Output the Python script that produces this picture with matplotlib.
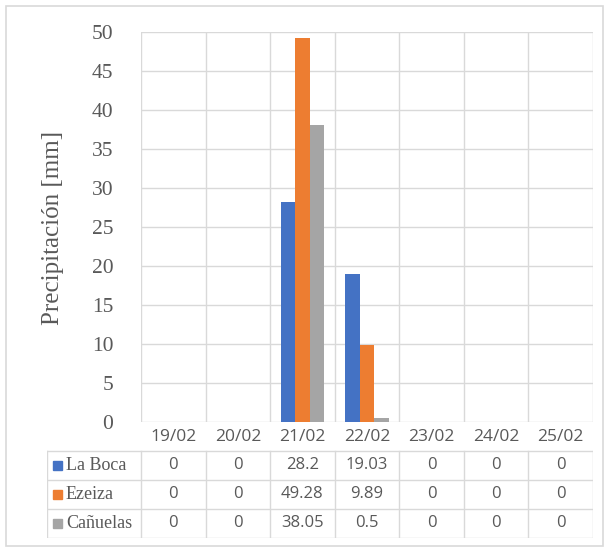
import matplotlib
matplotlib.use("Agg")
import matplotlib.pyplot as plt
from matplotlib.patches import Rectangle
import numpy as np

# data
dates = ["19/02", "20/02", "21/02", "22/02", "23/02", "24/02", "25/02"]
stations = ["La Boca", "Ezeiza", "Cañuelas"]
la_boca = [0, 0, 28.2, 19.03, 0, 0, 0]
ezeiza = [0, 0, 49.28, 9.89, 0, 0, 0]
canuelas = [0, 0, 38.05, 0.5, 0, 0, 0]
colors = ["#4472C4", "#ED7D31", "#A5A5A5"]
series = [la_boca, ezeiza, canuelas]

W, H = 608, 550
GRID = "#D9D9D9"
TXT = "#595959"
SERIF = "Liberation Serif"
SANS = "Open Sans"

fig = plt.figure(figsize=(W / 100, H / 100), dpi=100)
fig.patch.set_facecolor("white")

# outer border of the chart
fig.patches.append(Rectangle((6 / W, 1 - 546 / H), 597 / W, 540 / H,
                             transform=fig.transFigure, fill=False,
                             edgecolor=GRID, linewidth=1.2))

# plot area (pixel layout)
left, right, top, bottom = 141, 593, 32, 422
ax = fig.add_axes([left / W, 1 - bottom / H, (right - left) / W, (bottom - top) / H])
n = len(dates)
x = np.arange(n)
bw = 0.222
for k, (vals, c) in enumerate(zip(series, colors)):
    ax.bar(x + (k - 1) * bw, vals, width=bw, color=c, zorder=3)

ax.set_xlim(-0.5, n - 0.5)
ax.set_ylim(0, 50)
ax.set_yticks(np.arange(0, 51, 5))
ax.set_xticks([])
for s in ax.spines.values():
    s.set_visible(False)
ax.tick_params(axis="y", length=0, pad=20, labelsize=15.5, labelcolor=TXT)
for lab in ax.get_yticklabels():
    lab.set_fontfamily(SERIF)
for yv in np.arange(0, 51, 5):
    ax.axhline(yv, color=GRID, linewidth=1, zorder=1)
for xv in np.arange(-0.5, n, 1):
    ax.axvline(xv, color=GRID, linewidth=1, zorder=1)

# y axis title
fig.text(53 / W, 1 - 228 / H, "Precipitación [mm]", rotation=90, ha="center",
         va="center", fontsize=18, color=TXT, family=SERIF)

# data table below the plot
tl, tb = 47, 538
cw = (right - left) / n
tab = fig.add_axes([tl / W, 1 - tb / H, (right - tl) / W, (tb - bottom) / H])
tab.set_xlim(-0.5 - (left - tl) / cw, n - 0.5)
tab.set_ylim(tb, bottom)
tab.axis("off")
x0 = -0.5 - (left - tl) / cw

row_lines = [451, 480, 509, 538]
for yv in row_lines:
    tab.plot([x0, n - 0.5], [yv, yv], color=GRID, linewidth=1)
for xv in [x0] + list(np.arange(-0.5, n, 1)):
    tab.plot([xv, xv], [row_lines[0], row_lines[-1]], color=GRID, linewidth=1)

for i, d in enumerate(dates):
    tab.text(i, 437, d, ha="center", va="center", fontsize=12.5, color=TXT, family=SANS)

for r, (name, vals, c) in enumerate(zip(stations, series, colors)):
    yc = (row_lines[r] + row_lines[r + 1]) / 2
    tab.add_patch(Rectangle((x0 + 6 / cw, yc - 4.5), 9 / cw, 9, color=c, clip_on=False))
    tab.text(x0 + 19 / cw, yc, name, ha="left", va="center", fontsize=13,
             color=TXT, family=SERIF)
    for i, v in enumerate(vals):
        tab.text(i, yc, f"{v:g}", ha="center", va="center", fontsize=12,
                 color=TXT, family=SANS)

fig.savefig("out.png", dpi=100)
